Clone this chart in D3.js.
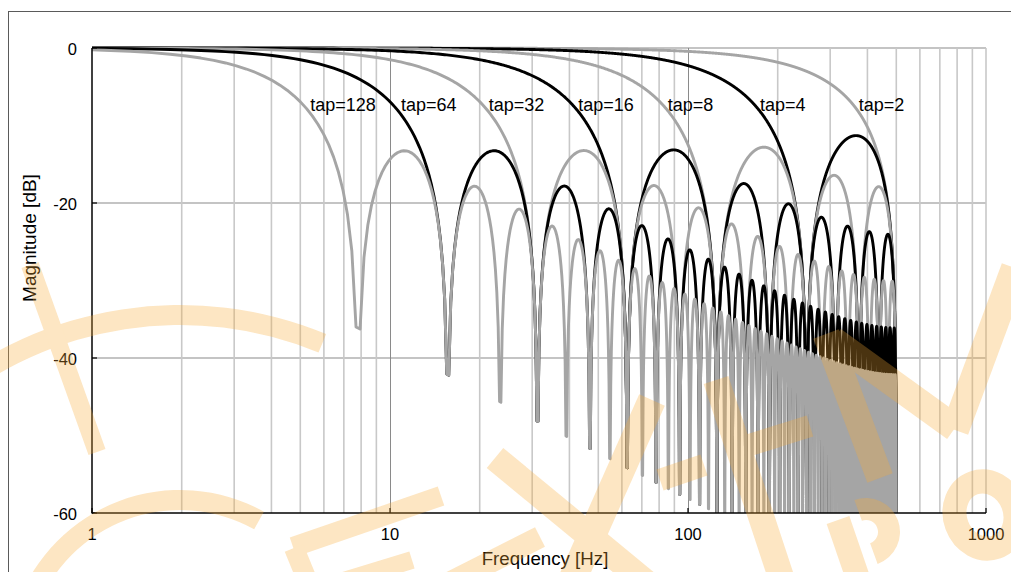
<!DOCTYPE html>
<html>
<head>
<meta charset="utf-8">
<script src="https://cdn.jsdelivr.net/npm/d3@7"></script>
<style>
body{margin:0;background:#fff}
svg{display:block;font-family:"Liberation Sans",Arial,sans-serif}
</style>
</head>
<body>
<svg id="chart" width="1011" height="572"></svg>
<script>
// moving average filters, fs = 1000 Hz
var taps = [2,4,8,16,32,64,128]
var sampleRate = 1000
var fftSize = 4096
var tapLabels = ["tap=2","tap=4","tap=8","tap=16","tap=32","tap=64","tap=128"]
var labelFreqs = [446,208,102,53.1,26.6,13.5,6.96]
var labelDb = -8.1
var xTicks = [1,10,100,1000]
var yTicks = [0,-20,-40,-60]

var svg = d3.select("#chart")
var x = d3.scaleLog().domain([1,1000]).range([92,986])
var y = d3.scaleLinear().domain([-60,0]).range([513,48])

// outer frame
svg.append("rect")
   .attr("x",8.5).attr("y",11.5)
   .attr("width",1020).attr("height",580)
   .attr("fill","none").attr("stroke","#5a5a5a").attr("stroke-width",1)

// grid
var minor = []
;[1,10,100].forEach(d=>{ for(let k=2;k<10;k++) minor.push(k*d) })
var grid = svg.append("g")
grid.selectAll(".hgrid")
    .data(yTicks.filter(v=>v>-60))
    .enter().append("line")
    .attr("x1",x(1)).attr("x2",x(1000))
    .attr("y1",d=>y(d)).attr("y2",d=>y(d))
    .attr("stroke","#c4c4c4").attr("stroke-width",2)
grid.selectAll(".vminor")
    .data(minor.concat([1000]))
    .enter().append("line")
    .attr("x1",d=>x(d)).attr("x2",d=>x(d))
    .attr("y1",y(0)).attr("y2",y(-60))
    .attr("stroke","#c8c8c8").attr("stroke-width",1.6)
grid.selectAll(".vmajor")
    .data([10,100])
    .enter().append("line")
    .attr("x1",d=>Math.round(x(d))+0.5).attr("x2",d=>Math.round(x(d))+0.5)
    .attr("y1",y(0)).attr("y2",y(-60))
    .attr("stroke","#8a8a8a").attr("stroke-width",1)

svg.append("clipPath").attr("id","plot")
   .append("rect").attr("x",x(1)).attr("y",y(0)-3)
   .attr("width",x(1000)-x(1)).attr("height",y(-60)-y(0)+3)

var freqs = d3.range(fftSize/2).map(m=>(m+0.5)*sampleRate/fftSize)
function magnitude(f,n){
  var num = Math.sin(Math.PI*f*n/sampleRate)
  var den = n*Math.sin(Math.PI*f/sampleRate)
  return Math.max(-200,20*Math.log10(Math.abs(num/den)))
}
var series = taps.map(n=>({tap:n,values:freqs.filter(f=>f>0.5).map(f=>({f:f,db:magnitude(f,n)}))}))

var line = d3.line().x(d=>x(d.f)).y(d=>y(d.db))
svg.append("g").attr("clip-path","url(#plot)")
   .selectAll(".curve")
   .data(series)
   .enter().append("path")
   .classed("curve",true)
   .attr("fill","none")
   .attr("stroke",(d,i)=>i%2===0?"#a5a5a5":"#000")
   .attr("stroke-width",2.9)
   .attr("stroke-linejoin","round")
   .attr("d",d=>line(d.values))

// axes
svg.append("line").attr("x1",x(1)).attr("x2",x(1)).attr("y1",y(0)).attr("y2",y(-60)+0.5)
   .attr("stroke","#000").attr("stroke-width",1.5)
svg.append("line").attr("x1",x(1)).attr("x2",x(1000)).attr("y1",y(-60)).attr("y2",y(-60))
   .attr("stroke","#000").attr("stroke-width",1.5)
svg.selectAll(".ytick").data(yTicks).enter().append("line")
   .attr("x1",x(1)).attr("x2",x(1)+5).attr("y1",d=>y(d)).attr("y2",d=>y(d))
   .attr("stroke","#000").attr("stroke-width",1.2)
svg.selectAll(".xtick").data(xTicks).enter().append("line")
   .attr("x1",d=>x(d)).attr("x2",d=>x(d)).attr("y1",y(-60)).attr("y2",y(-60)-5)
   .attr("stroke","#000").attr("stroke-width",1.2)

svg.selectAll(".ylab").data(yTicks).enter().append("text")
   .attr("x",77).attr("y",d=>y(d)+6.5)
   .attr("text-anchor","end").attr("font-size","16.5px")
   .text(d=>d)
svg.selectAll(".xlab").data(xTicks).enter().append("text")
   .attr("x",d=>x(d)).attr("y",540)
   .attr("text-anchor","middle").attr("font-size","16.5px")
   .text(d=>d)

svg.selectAll(".taplab").data(tapLabels).enter().append("text")
   .attr("x",(d,i)=>x(labelFreqs[i])).attr("y",y(labelDb))
   .attr("text-anchor","middle").attr("font-size","18px")
   .text(d=>d)

svg.append("text").attr("x",545).attr("y",565)
   .attr("text-anchor","middle").attr("font-size","18.7px")
   .text("Frequency [Hz]")
svg.append("text").attr("transform","translate(36,238) rotate(-90)")
   .attr("text-anchor","middle").attr("font-size","19px")
   .text("Magnitude [dB]")

// watermark
var wm = svg.append("g").attr("opacity",0.3).attr("fill","rgb(248,171,54)").attr("stroke","rgb(248,171,54)")
var rad = Math.PI/180
var wmArcs = [[180,687,362,382,-40,22.5],[180,663,153,173,-70,29]]
wmArcs.forEach(a=>{
  wm.append("path").attr("stroke","none")
    .attr("transform",`translate(${a[0]},${a[1]})`)
    .attr("d",d3.arc().innerRadius(a[2]).outerRadius(a[3]).startAngle(a[4]*rad).endAngle(a[5]*rad)())
})
var wmBands = [
  [30,265,97,452,18],
  [293,547,441,496,20],[294,548,312,592,20],
  [445,585,540,537,22],[340,582,412,560,18],
  [495,458,655,590,26],[652,400,570,585,28],
  [716,380,782,580,26],[660,480,704,465,22],[740,448,810,426,22],
  [880,478,826,334,27],[833,340,955,428,27],[955,430,1015,268,28],
  [838,520,862,590,24]
]
wm.selectAll(".band").data(wmBands).enter().append("line")
  .attr("x1",d=>d[0]).attr("y1",d=>d[1]).attr("x2",d=>d[2]).attr("y2",d=>d[3])
  .attr("stroke-width",d=>d[4])
wm.append("path").attr("stroke","none")
  .attr("transform","translate(866,532) rotate(-20)")
  .attr("d",d3.arc().innerRadius(12).outerRadius(34).startAngle(0).endAngle(Math.PI)())
wm.append("ellipse").attr("fill","none")
  .attr("transform","translate(985,515) rotate(-20)")
  .attr("rx",30).attr("ry",34).attr("stroke-width",24)
</script>
</body>
</html>
